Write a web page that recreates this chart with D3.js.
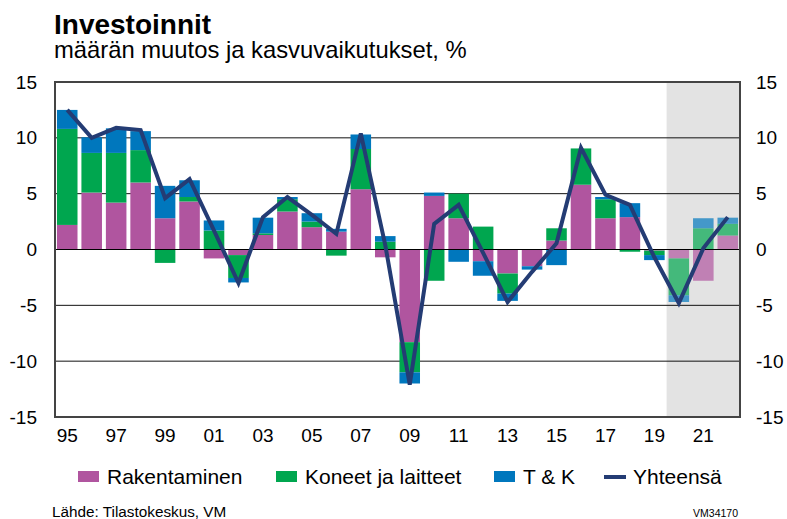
<!DOCTYPE html>
<html>
<head>
<meta charset="utf-8">
<script src="https://cdn.jsdelivr.net/npm/d3@7"></script>
<style>
  body { margin: 0; background: #fff; }
  svg { display: block; font-family: "Liberation Sans", Arial, sans-serif; }
</style>
</head>
<body>
<svg id="chart" width="787" height="519"></svg>
<script>
// vuodet 1995-2022
const years = d3.range(1995, 2023);
const rakentaminen = [2.2, 5.1, 4.2, 6.0, 2.8, 4.3, -0.8, -0.5, 1.3, 3.4, 2.0, 1.6, 5.4, -0.7, -8.3, 4.8, 2.8, -1.05, -2.15, -1.5, 0.8, 5.8, 2.8, 2.9, -0.1, -0.8, -2.8, 1.25];
const koneet = [8.6, 3.55, 4.45, 2.9, -1.2, 0.4, 1.7, -2.05, 0.15, 1.1, 0.5, -0.55, 3.6, 0.7, -2.7, -2.8, 2.2, 2.05, -1.8, 0, 1.1, 3.25, 1.7, -0.2, -0.4, -3.3, 1.9, 1.05];
const tk = [1.7, 1.4, 2.2, 1.7, 2.9, 1.5, 0.9, -0.4, 1.4, 0.2, 0.75, 0.25, 1.3, 0.5, -1.0, 0.3, -1.1, -1.3, -0.65, -0.3, -1.4, 0, 0.2, 1.25, -0.45, -0.6, 0.9, 0.55];
const yhteensa = [12.5, 10.0, 10.9, 10.7, 4.6, 6.3, 1.7, -3.0, 2.9, 4.7, 3.1, 1.4, 10.4, 0.4, -12.1, 2.3, 4.0, -0.3, -4.7, -2.0, 0.55, 9.1, 4.9, 4.0, -0.7, -4.8, 0.1, 2.9];
const yTicks = [-15, -10, -5, 0, 5, 10, 15];
const xTickYears = d3.range(1995, 2022, 2);
const forecastStart = 2020;

const series = [
	{ key: 'rak', label: 'Rakentaminen', color: '#B0559F', values: rakentaminen },
	{ key: 'kon', label: 'Koneet ja laitteet', color: '#00A64F', values: koneet },
	{ key: 'tk', label: 'T & K', color: '#0077BD', values: tk }
];
const lineColor = '#243C74';

const svg = d3.select('#chart');
const plot = { left: 55, right: 740, top: 82, bottom: 417 };

const x = d3.scaleBand().domain(years).range([plot.left, plot.right]).paddingInner(0.16).paddingOuter(0.08);
const y = d3.scaleLinear().domain([-15, 15]).range([plot.bottom, plot.top]);

// ennusteen tausta
const shadeX = x(forecastStart) - x.step() * x.paddingInner() / 2;
svg.append('rect')
	.attr('x', shadeX).attr('y', plot.top)
	.attr('width', plot.right - shadeX).attr('height', plot.bottom - plot.top)
	.attr('fill', '#E3E3E3');

// gridlines
svg.append('g')
	.selectAll('line')
	.data(yTicks.filter(d => d !== 0 && Math.abs(d) !== 15))
	.join('line')
	.attr('x1', plot.left).attr('x2', plot.right)
	.attr('y1', d => y(d)).attr('y2', d => y(d))
	.attr('stroke', '#111').attr('stroke-width', 1);

// stacked bars
const table = years.map((yr, i) => {
	const row = { year: yr };
	series.forEach(s => { row[s.key] = s.values[i]; });
	return row;
});
const stack = d3.stack()
	.keys(series.map(s => s.key))
	.offset(d3.stackOffsetDiverging);
const stacked = stack(table);

svg.append('g')
	.selectAll('g')
	.data(stacked)
	.join('g')
	.attr('fill', (d, i) => series[i].color)
	.selectAll('rect')
	.data(d => d)
	.join('rect')
	.attr('x', d => x(d.data.year))
	.attr('width', x.bandwidth())
	.attr('y', d => y(Math.max(d[0], d[1])))
	.attr('height', d => Math.abs(y(d[0]) - y(d[1])))
	.attr('fill-opacity', d => d.data.year >= forecastStart ? 0.7 : 1);

// zero line
svg.append('line')
	.attr('x1', plot.left).attr('x2', plot.right)
	.attr('y1', y(0)).attr('y2', y(0))
	.attr('stroke', '#000').attr('stroke-width', 1.2);

// frame
svg.append('rect')
	.attr('x', plot.left).attr('y', plot.top)
	.attr('width', plot.right - plot.left).attr('height', plot.bottom - plot.top)
	.attr('fill', 'none').attr('stroke', '#444').attr('stroke-width', 2);

// total line
const line = d3.line()
	.x((d, i) => x(years[i]) + x.bandwidth() / 2)
	.y(d => y(d));
svg.append('path')
	.datum(yhteensa)
	.attr('d', line)
	.attr('fill', 'none')
	.attr('stroke', lineColor)
	.attr('stroke-width', 4)
	.attr('stroke-linejoin', 'miter');

// axes (tavallinen tavuviiva miinusmerkkinä)
const yFormat = d => String(d);
const yLeft = d3.axisLeft(y).tickValues(yTicks).tickSize(0).tickPadding(18).tickFormat(yFormat);
const yRight = d3.axisRight(y).tickValues(yTicks).tickSize(0).tickPadding(16).tickFormat(yFormat);
const xAxis = d3.axisBottom(x).tickValues(xTickYears).tickSize(0).tickPadding(12)
	.tickFormat(d => String(d).slice(2));

function styleAxis(g) {
	g.select('.domain').remove();
	g.selectAll('text').attr('font-size', 19).attr('fill', '#000')
		.attr('font-family', '"Liberation Sans", Arial, sans-serif');
}
svg.append('g').attr('transform', `translate(${plot.left},0)`).call(yLeft).call(styleAxis);
svg.append('g').attr('transform', `translate(${plot.right},0)`).call(yRight).call(styleAxis);
svg.append('g').attr('transform', `translate(0,${plot.bottom})`).call(xAxis).call(styleAxis);

// titles
svg.append('text').attr('x', 54).attr('y', 34)
	.attr('font-size', 28).attr('font-weight', 'bold').text('Investoinnit');
svg.append('text').attr('x', 54).attr('y', 58)
	.attr('font-size', 23.8).text('määrän muutos ja kasvuvaikutukset, %');

// legend
const legendItems = [
	{ label: series[0].label, color: series[0].color, x: 78, type: 'rect' },
	{ label: series[1].label, color: series[1].color, x: 276, type: 'rect' },
	{ label: series[2].label, color: series[2].color, x: 494, type: 'rect' },
	{ label: 'Yhteensä', color: lineColor, x: 604, type: 'line' }
];
const legend = svg.append('g').selectAll('g').data(legendItems).join('g')
	.attr('transform', d => `translate(${d.x},0)`);
legend.filter(d => d.type === 'rect').append('rect')
	.attr('x', 0).attr('y', 471).attr('width', 21).attr('height', 11)
	.attr('fill', d => d.color);
legend.filter(d => d.type === 'line').append('line')
	.attr('x1', 0).attr('x2', 22).attr('y1', 477).attr('y2', 477)
	.attr('stroke', d => d.color).attr('stroke-width', 4);
legend.append('text')
	.attr('x', 29).attr('y', 484)
	.attr('font-size', 21).text(d => d.label);

// footer
svg.append('text').attr('x', 52).attr('y', 517)
	.attr('font-size', 15.3).text('Lähde: Tilastokeskus, VM');
svg.append('text').attr('x', 738).attr('y', 517).attr('text-anchor', 'end')
	.attr('font-size', 10.5).text('VM34170');
</script>
</body>
</html>
